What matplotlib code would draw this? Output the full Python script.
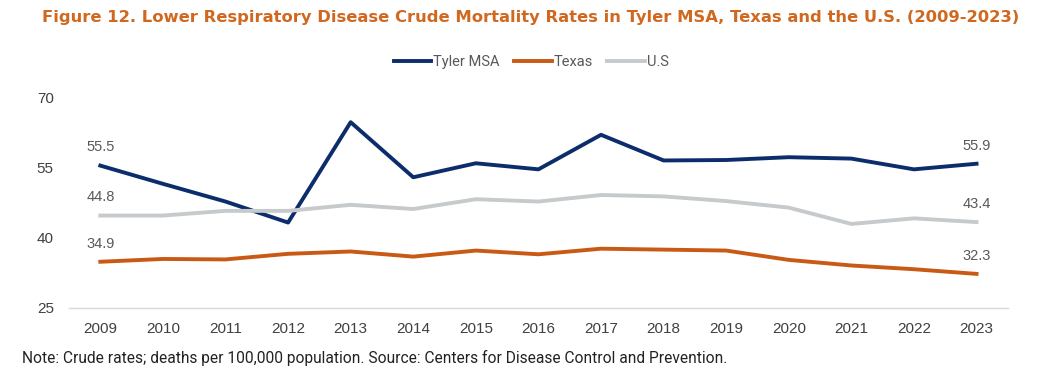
import numpy as np
import matplotlib.pyplot as plt

# Data
years = ["2009", "2010", "2011", "2012", "2013", "2014", "2015", "2016",
         "2017", "2018", "2019", "2020", "2021", "2022", "2023"]
tyler = [55.5, 51.6, 47.8, 43.3, 64.8, 53.0, 56.0, 54.7, 62.1, 56.6, 56.7, 57.3, 57.0, 54.7, 55.9]
texas = [34.9, 35.5, 35.4, 36.6, 37.1, 36.0, 37.3, 36.5, 37.7, 37.5, 37.3, 35.3, 34.1, 33.3, 32.3]
us = [44.8, 44.8, 45.8, 45.8, 47.1, 46.2, 48.3, 47.8, 49.2, 48.9, 47.9, 46.5, 43.0, 44.2, 43.4]
yticks = [25, 40, 55, 70]

title = "Figure 12. Lower Respiratory Disease Crude Mortality Rates in Tyler MSA, Texas and the U.S. (2009-2023)"
note = "Note: Crude rates; deaths per 100,000 population. Source: Centers for Disease Control and Prevention."

c_tyler = "#0c2d6b"
c_texas = "#c95a16"
c_us = "#c6cacc"
c_text = "#595959"

plt.rcParams['font.family'] = ['Liberation Sans', 'DejaVu Sans']

fig = plt.figure(figsize=(10.62, 3.84), dpi=100)
ax = fig.add_axes([0.065, 0.198, 0.884, 0.547])

x = np.arange(len(years))
ax.plot(x, tyler, color=c_tyler, lw=2.8, label="Tyler MSA")
ax.plot(x, texas, color=c_texas, lw=2.8, label="Texas")
ax.plot(x, us, color=c_us, lw=2.8, label="U.S")

# end labels
for series in (tyler, texas, us):
    for i in (0, len(x) - 1):
        ax.annotate(f"{series[i]:.1f}", (x[i], series[i]), xytext=(0, 8),
                    textcoords='offset points', ha='center', va='bottom',
                    fontsize=10.5, color=c_text)

ax.set_xlim(-0.5, len(x) - 0.5)
ax.set_ylim(25, 70)
ax.set_xticks(x)
ax.set_xticklabels(years)
ax.set_yticks(yticks)
ax.tick_params(length=0, labelsize=11, colors="#404040", pad=10)
ax.tick_params(axis='y', pad=11)
for s in ('top', 'right', 'left'):
    ax.spines[s].set_visible(False)
ax.spines['bottom'].set_color("#d9d9d9")
ax.spines['bottom'].set_linewidth(1)

leg = fig.legend(loc='center', bbox_to_anchor=(0.5, 0.838), ncol=3, frameon=False,
                 handlelength=2.6, handletextpad=0.1, columnspacing=1.0,
                 prop={'family': 'Roboto', 'size': 10.5})
for t in leg.get_texts():
    t.set_color(c_text)

fig.text(0.5, 0.955, title, ha='center', va='center', fontsize=11.75,
         fontweight='bold', color="#d0691f", family='DejaVu Sans')
fig.text(0.021, 0.068, note, ha='left', va='center', fontsize=11.2,
         color="#222222", family='Roboto')

fig.savefig("out.png", dpi=100)
